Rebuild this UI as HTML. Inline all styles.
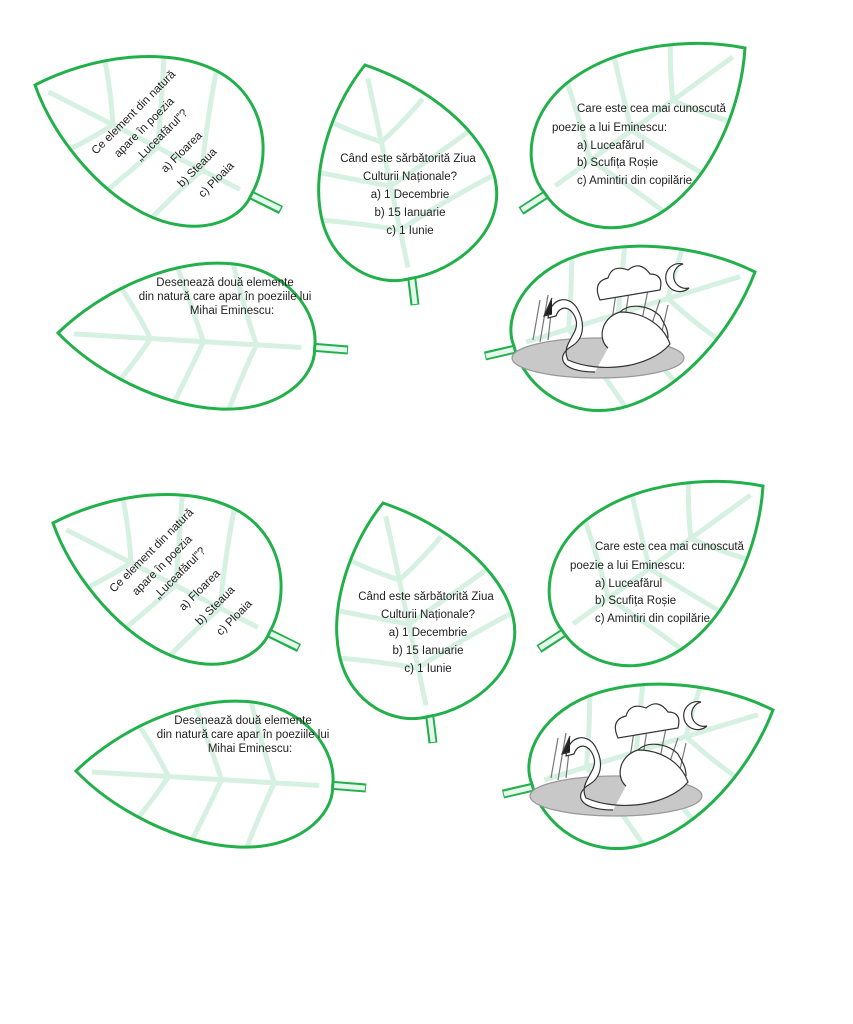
<!DOCTYPE html>
<html><head><meta charset="utf-8"><style>
html,body{margin:0;padding:0;background:#fff;}
svg{display:block}
text{font-family:"Liberation Sans",sans-serif;fill:#222;font-size:11.5px}
.lo{fill:none;stroke:#22b04b;stroke-width:3;vector-effect:non-scaling-stroke}
.vn path{fill:none;stroke:#d6f1e2;stroke-width:5;vector-effect:non-scaling-stroke}
</style></head><body>
<svg width="853" height="1024" viewBox="0 0 853 1024" xmlns="http://www.w3.org/2000/svg">
<defs>
<g id="vn" class="vn">
<path d="M0.06,0 L0.92,0"/>
<path d="M0.35,0 Q0.28,-0.12 0.2,-0.22"/>
<path d="M0.55,0 Q0.47,-0.2 0.38,-0.4"/>
<path d="M0.75,0 Q0.67,-0.2 0.6,-0.45"/>
<path d="M0.35,0 Q0.28,0.12 0.2,0.22"/>
<path d="M0.55,0 Q0.47,0.2 0.38,0.4"/>
<path d="M0.75,0 Q0.67,0.2 0.6,0.45"/>
</g>
<path id="p1" d="M0,0 C0.15,-0.209 0.4,-0.38 0.62,-0.38 C0.85,-0.38 0.98,-0.171 0.97,0 C0.98,0.117 0.85,0.26 0.62,0.26 C0.4,0.26 0.15,0.143 0,0Z"/>
<path id="p2" d="M0,0 C0.15,-0.253 0.4,-0.46 0.62,-0.46 C0.85,-0.46 0.98,-0.207 0.97,0 C0.98,0.149 0.85,0.33 0.62,0.33 C0.4,0.33 0.15,0.182 0,0Z"/>
<path id="p3" d="M0,0 C0.15,-0.182 0.4,-0.33 0.62,-0.33 C0.85,-0.33 0.98,-0.149 0.97,0 C0.98,0.135 0.85,0.30 0.62,0.30 C0.4,0.30 0.15,0.165 0,0Z"/>
<path id="p4" d="M0,0 C0.15,-0.165 0.4,-0.30 0.62,-0.30 C0.85,-0.30 0.98,-0.135 0.97,0 C0.98,0.113 0.85,0.25 0.62,0.25 C0.4,0.25 0.15,0.138 0,0Z"/>
<path id="p5" d="M0,0 C0.15,-0.193 0.4,-0.35 0.62,-0.35 C0.85,-0.35 0.98,-0.158 0.97,0 C0.98,0.117 0.85,0.26 0.62,0.26 C0.4,0.26 0.15,0.143 0,0Z"/>
<clipPath id="c1"><use href="#p1"/></clipPath>
<clipPath id="c2"><use href="#p2"/></clipPath>
<clipPath id="c3"><use href="#p3"/></clipPath>
<clipPath id="c4"><use href="#p4"/></clipPath>
<clipPath id="c5"><use href="#p5"/></clipPath>
</defs>
<g id="set">
<!-- leaf 1 -->
<line x1="245" y1="192" x2="281" y2="210" stroke="#22b04b" stroke-width="9"/>
<line x1="245" y1="192" x2="280" y2="209" stroke="#e6f7ee" stroke-width="5"/>
<g transform="translate(35,85) rotate(27) scale(250,250)">
<use href="#p1" fill="#fff"/>
<use href="#vn" clip-path="url(#c1)"/>
<path class="lo" d="M0,0 C0.15,-0.209 0.4,-0.38 0.62,-0.38 C0.85,-0.38 0.98,-0.171 0.97,0 C0.98,0.117 0.85,0.26 0.62,0.26 C0.4,0.26 0.15,0.143 0,0Z"/>
</g>
<!-- leaf 2 -->
<line x1="411" y1="272" x2="415" y2="305" stroke="#22b04b" stroke-width="9"/>
<line x1="411" y1="272" x2="415" y2="304" stroke="#e6f7ee" stroke-width="5"/>
<g transform="translate(365,65) rotate(78) scale(225,225)">
<use href="#p2" fill="#fff"/>
<use href="#vn" clip-path="url(#c2)"/>
<path class="lo" d="M0,0 C0.15,-0.253 0.4,-0.46 0.62,-0.46 C0.85,-0.46 0.98,-0.207 0.97,0 C0.98,0.149 0.85,0.33 0.62,0.33 C0.4,0.33 0.15,0.182 0,0Z"/>
</g>
<!-- leaf 3 -->
<line x1="550" y1="192" x2="521" y2="211" stroke="#22b04b" stroke-width="9"/>
<line x1="550" y1="192" x2="522" y2="210" stroke="#e6f7ee" stroke-width="5"/>
<g transform="translate(745,48) rotate(144) scale(255,255)">
<use href="#p3" fill="#fff"/>
<use href="#vn" clip-path="url(#c3)"/>
<path class="lo" d="M0,0 C0.15,-0.182 0.4,-0.33 0.62,-0.33 C0.85,-0.33 0.98,-0.149 0.97,0 C0.98,0.135 0.85,0.30 0.62,0.30 C0.4,0.30 0.15,0.165 0,0Z"/>
</g>
<!-- leaf 4 -->
<line x1="310" y1="347" x2="348" y2="350" stroke="#22b04b" stroke-width="9"/>
<line x1="310" y1="347" x2="347" y2="350" stroke="#e6f7ee" stroke-width="5"/>
<g transform="translate(58,333) rotate(3.4) scale(265,265)">
<use href="#p4" fill="#fff"/>
<use href="#vn" clip-path="url(#c4)"/>
<path class="lo" d="M0,0 C0.15,-0.165 0.4,-0.30 0.62,-0.30 C0.85,-0.30 0.98,-0.135 0.97,0 C0.98,0.113 0.85,0.25 0.62,0.25 C0.4,0.25 0.15,0.138 0,0Z"/>
</g>
<!-- leaf 5 swan -->
<line x1="520" y1="348" x2="485" y2="356" stroke="#22b04b" stroke-width="9"/>
<line x1="520" y1="348" x2="486" y2="356" stroke="#e6f7ee" stroke-width="5"/>
<g transform="translate(755,272) rotate(163) scale(260,260)">
<use href="#p5" fill="#fff"/>
<use href="#vn" clip-path="url(#c5)"/>
<path class="lo" d="M0,0 C0.15,-0.193 0.4,-0.35 0.62,-0.35 C0.85,-0.35 0.98,-0.158 0.97,0 C0.98,0.117 0.85,0.26 0.62,0.26 C0.4,0.26 0.15,0.143 0,0Z"/>
</g>
<!-- swan picture -->
<g stroke="#333" stroke-width="1.2" fill="none">
<ellipse cx="598" cy="358" rx="86" ry="20" fill="#c8c8c8" stroke="#999"/>
<path d="M533,340 L540,300 M540,342 L548,295 M548,340 L552,305 M640,330 L648,290 M648,335 L660,300 M660,340 L668,305 M612,320 L618,280 M625,318 L630,285" stroke="#777"/>
<path d="M600,300 q-8,-18 8,-22 q4,-14 20,-8 q12,-10 22,4 q14,0 10,16 z" fill="#fff"/>
<path d="M683,264 a14,14 0 1,0 6,24 a11,11 0 1,1 -6,-24z" fill="#fff"/>
<path d="M595,372 C560,372 555,356 572,346 C585,338 585,322 577,308 C568,294 550,298 548,318 L556,316 C560,304 572,306 576,320 C580,334 560,344 568,360 C600,374 650,368 670,344 C662,322 640,312 620,312 C600,318 598,340 608,348" fill="#fff"/>
<path d="M620,312 c10,-10 30,-6 40,4 c4,8 8,12 8,22"/>
<path d="M552,298 l-8,18 l8,-2" fill="#222"/>
</g>
</g>
<use href="#set" transform="translate(18,438)"/>
<g id="txt">
<g transform="translate(136,115) rotate(-45)">
<text x="0" y="0" text-anchor="middle">Ce element din natură</text>
<text x="-3" y="18" text-anchor="middle">apare în poezia</text>
<text x="4" y="36" text-anchor="middle">„Luceafărul”?</text>
<text x="6" y="62" text-anchor="middle">a) Floarea</text>
<text x="6" y="84" text-anchor="middle">b) Steaua</text>
<text x="11" y="106" text-anchor="middle">c) Ploaia</text>
</g>
<g text-anchor="middle">
<text x="408" y="162">Când este sărbătorită Ziua</text>
<text x="410" y="180">Culturii Naționale?</text>
<text x="410" y="198">a) 1 Decembrie</text>
<text x="410" y="216">b) 15 Ianuarie</text>
<text x="410" y="234">c) 1 Iunie</text>
<text x="225" y="286">Desenează două elemente</text>
<text x="225" y="300">din natură care apar în poeziile lui</text>
<text x="232" y="314">Mihai Eminescu:</text>
</g>
<text x="577" y="112">Care este cea mai cunoscută</text>
<text x="552" y="131">poezie a lui Eminescu:</text>
<text x="577" y="149">a) Luceafărul</text>
<text x="577" y="166">b) Scufița Roșie</text>
<text x="577" y="184">c) Amintiri din copilărie</text>
</g>
<use href="#txt" transform="translate(18,438)"/>
</svg>
</body></html>
